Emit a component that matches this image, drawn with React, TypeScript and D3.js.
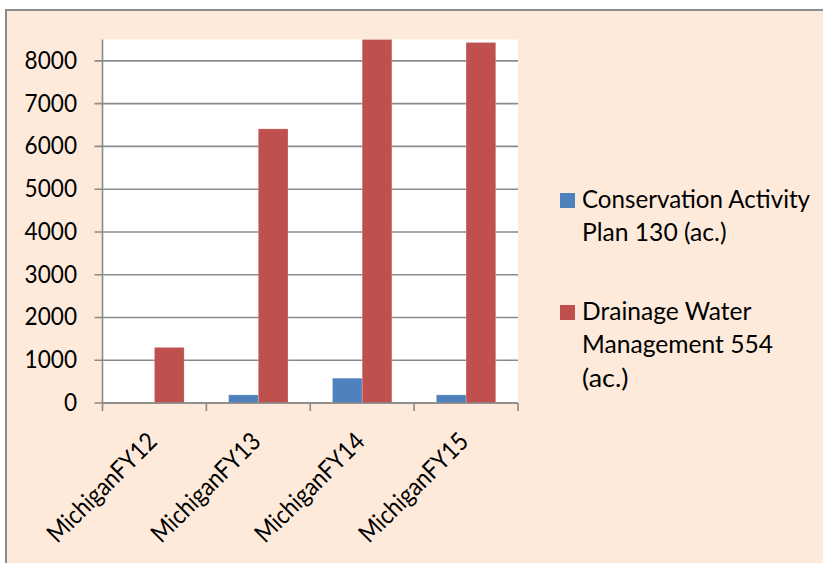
import React from "react";
import * as d3 from "d3";

const categories = ["MichiganFY12", "MichiganFY13", "MichiganFY14", "MichiganFY15"];
const seriesNames = ["Conservation Activity Plan 130 (ac.)", "Drainage Water Management 554 (ac.)"];
const conservationValues = [0, 190, 580, 190];
const drainageValues = [1300, 6410, 8500, 8430];
const yTicks = [0, 1000, 2000, 3000, 4000, 5000, 6000, 7000, 8000];
const legendLines = [
  ["Conservation Activity", "Plan 130 (ac.)"],
  ["Drainage Water", "Management 554", "(ac.)"],
];

// style constants (rendered text widths matching the reference's font)
const legendTextWidths = [
  [228, 144.5],
  [169.5, 191, 46.5],
];
const catLabelWidth = 143;
const digitWidth = 13.1;

const W = 823;
const H = 563;
const colors = ["#4F81BD", "#C0504D"];
const FONT = "Lato, 'Open Sans', sans-serif";

export default function App() {
  const plot = { left: 102.5, right: 518, top: 39.5, bottom: 403 };
  const x0 = d3.scaleBand<string>().domain(categories).range([plot.left, plot.right]).paddingInner(0).paddingOuter(0);
  const x1 = d3.scaleBand<string>().domain(seriesNames).range([0, x0.bandwidth()]).paddingInner(0).paddingOuter(0.75);
  const y = d3.scaleLinear().domain([0, 8500]).range([plot.bottom, plot.top]);
  const series = [conservationValues, drainageValues];
  const tickXs = [...categories.map((c) => x0(c) as number), plot.right];
  const gridColor = "#8a8a8a";

  return (
    <svg width={W} height={H} style={{ position: "absolute", left: 0, top: 0, display: "block" }} fontFamily={FONT}>
      <rect x={0} y={0} width={W} height={H} fill="#ffffff" />
      <rect x={6} y={10} width={W - 6} height={H - 10} fill="#FDEADA" />
      <line x1={5} x2={W} y1={10} y2={10} stroke="#8c8c8c" strokeWidth={2} />
      <line x1={6} x2={6} y1={9} y2={H} stroke="#8c8c8c" strokeWidth={2} />
      <rect x={plot.left} y={plot.top} width={plot.right - plot.left} height={plot.bottom - plot.top} fill="#ffffff" />
      {yTicks.map((t) => (
        <g key={t}>
          <line x1={plot.left - 8} x2={plot.right} y1={y(t)} y2={y(t)} stroke={gridColor} strokeWidth={1.6} />
          <text
            x={77}
            y={y(t) + 8}
            textAnchor="end"
            fontSize={25}
            fill="#000"
            textLength={String(t).length * digitWidth}
            lengthAdjust="spacingAndGlyphs"
          >
            {t}
          </text>
        </g>
      ))}
      {series.map((vals, si) =>
        vals.map((v, ci) => {
          const bx = (x0(categories[ci]) as number) + (x1(seriesNames[si]) as number);
          if (v <= 0) return null;
          return (
            <rect
              key={`${si}-${ci}`}
              x={bx}
              y={y(v)}
              width={x1.bandwidth()}
              height={y(0) - y(v)}
              fill={colors[si]}
              stroke="rgba(255,255,255,0.25)"
              strokeWidth={0.8}
            />
          );
        })
      )}
      <line x1={plot.left} x2={plot.left} y1={plot.top} y2={plot.bottom} stroke={gridColor} strokeWidth={1.6} />
      <line x1={plot.left} x2={plot.right} y1={plot.bottom} y2={plot.bottom} stroke={gridColor} strokeWidth={1.6} />
      {tickXs.map((tx, i) => (
        <line key={i} x1={tx} x2={tx} y1={plot.bottom} y2={plot.bottom + 8} stroke={gridColor} strokeWidth={1.6} />
      ))}
      {categories.map((c) => {
        const cx = (x0(c) as number) + x0.bandwidth() / 2 + 4;
        const cy = 443;
        return (
          <text
            key={c}
            x={cx}
            y={cy}
            textAnchor="end"
            fontSize={25}
            transform={`rotate(-45, ${cx}, ${cy})`}
            fill="#000"
            textLength={catLabelWidth}
            lengthAdjust="spacingAndGlyphs"
          >
            {c}
          </text>
        );
      })}
      {legendLines.map((lines, si) => {
        const top = si === 0 ? 193 : 305;
        return (
          <g key={si}>
            <rect x={560} y={top} width={15} height={15} fill={colors[si]} />
            {lines.map((ln, li) => (
              <text
                key={li}
                x={582}
                y={top + 15 + li * 33.3}
                fontSize={25}
                fill="#000"
                textLength={legendTextWidths[si][li]}
                lengthAdjust="spacingAndGlyphs"
              >
                {ln}
              </text>
            ))}
          </g>
        );
      })}
    </svg>
  );
}
